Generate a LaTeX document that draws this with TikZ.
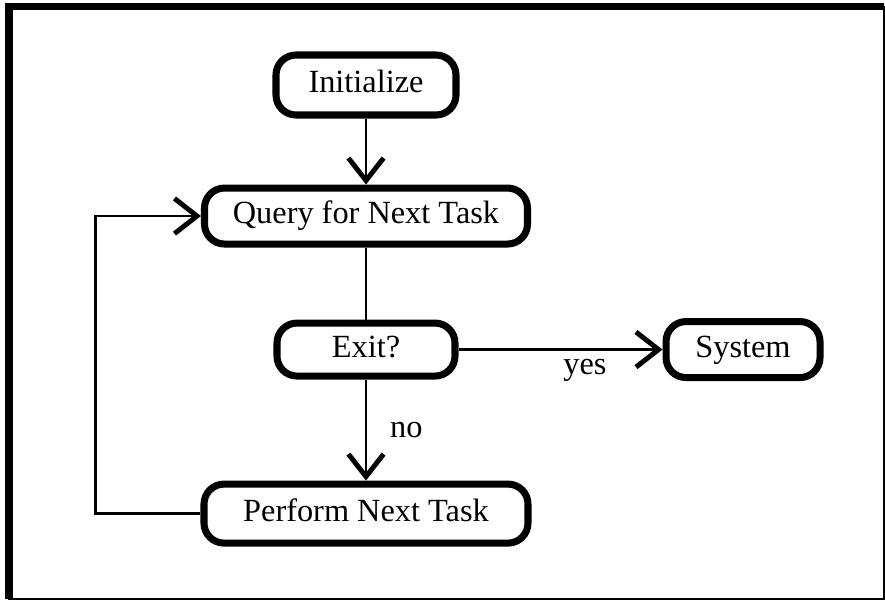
\documentclass[tikz,border=0pt]{standalone}
\usepackage{fontspec}
\setmainfont{Liberation Serif}
\usepackage{tikz}
\usetikzlibrary{arrows.meta, positioning}

\begin{document}
\begin{tikzpicture}[
    node distance=1.7cm and 5.1cm,
    font=\fontsize{23}{27}\selectfont,
    task/.style={rectangle, rounded corners=0.5cm, draw=black, line width=5pt,
                 align=center, minimum height=1.4cm, text height=15.5pt, text depth=4.5pt},
    conn/.style={line width=2pt, draw=black},
    arr/.style={-{Straight Barb[length=16pt, width=25pt, line width=3.5pt]}, conn}
]
\useasboundingbox (-9.15,2.125) rectangle (12.975,-12.9);

% frame
\coordinate (tl) at (-8.925,1.9625);
\coordinate (br) at (12.95,-12.85);
\draw[line width=1.2pt] (tl) rectangle (br);
\draw[line width=5.5pt] (tl -| br) -- (tl) -- (tl |- br);

\node[task, minimum width=4.5cm, minimum height=1.5cm] (init) {Initialize};
\node[task, minimum width=8.075cm, below=1.65cm of init]  (query)   {Query for Next Task};
\node[task, minimum width=4.45cm, minimum height=1.325cm, below=1.8cm of query] (exit) {Exit?};
\node[task, minimum width=3.85cm, right=of exit]          (sys)     {System};
\node[task, minimum width=8.1cm, minimum height=1.475cm, below=2.525cm of exit] (perform) {Perform Next Task};

\draw[arr]  (init)  -- (query);
\draw[conn] (query) -- (exit);
\draw[arr]  (exit)  -- node[right, xshift=0.45cm]{no} (perform);
\draw[arr]  (exit)  -- node[below, pos=0.62, yshift=-0.1cm]{yes} (sys);
\draw[arr]  (perform.west) -- ++(-2.625,0) |- (query.west);
\end{tikzpicture}
\end{document}
